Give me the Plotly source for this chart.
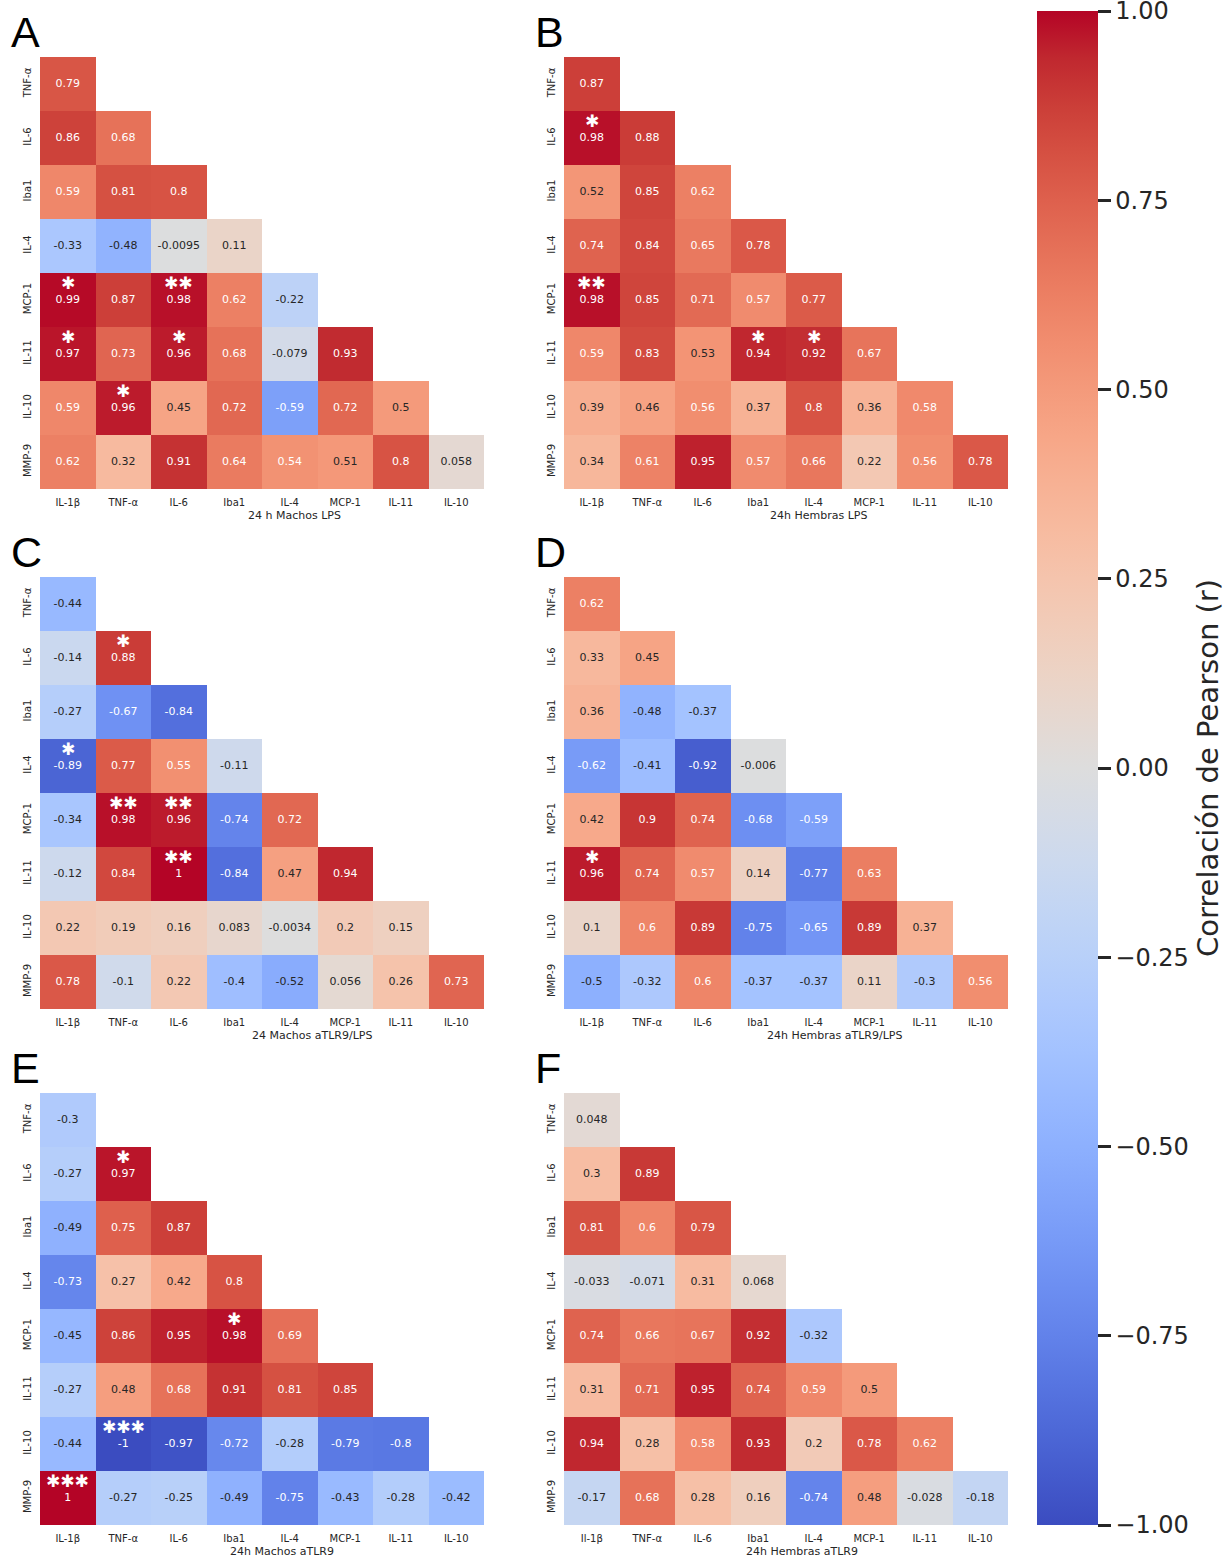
import plotly.graph_objects as go

# Row / column order of the lower-triangular correlation matrices
rows = ["TNF-α", "IL-6", "Iba1", "IL-4", "MCP-1", "IL-11", "IL-10", "MMP-9"]
cols = ["IL-1β", "TNF-α", "IL-6", "Iba1", "IL-4", "MCP-1", "IL-11", "IL-10"]
cols_f = ["Il-1β", "TNF-α", "IL-6", "Iba1", "IL-4", "MCP-1", "IL-11", "IL-10"]

# Pearson r per group (row i holds i+1 values)
r_machos_lps = [
    [0.79],
    [0.86, 0.68],
    [0.59, 0.81, 0.8],
    [-0.33, -0.48, -0.0095, 0.11],
    [0.99, 0.87, 0.98, 0.62, -0.22],
    [0.97, 0.73, 0.96, 0.68, -0.079, 0.93],
    [0.59, 0.96, 0.45, 0.72, -0.59, 0.72, 0.5],
    [0.62, 0.32, 0.91, 0.64, 0.54, 0.51, 0.8, 0.058],
]
r_hembras_lps = [
    [0.87],
    [0.98, 0.88],
    [0.52, 0.85, 0.62],
    [0.74, 0.84, 0.65, 0.78],
    [0.98, 0.85, 0.71, 0.57, 0.77],
    [0.59, 0.83, 0.53, 0.94, 0.92, 0.67],
    [0.39, 0.46, 0.56, 0.37, 0.8, 0.36, 0.58],
    [0.34, 0.61, 0.95, 0.57, 0.66, 0.22, 0.56, 0.78],
]
r_machos_tlr9_lps = [
    [-0.44],
    [-0.14, 0.88],
    [-0.27, -0.67, -0.84],
    [-0.89, 0.77, 0.55, -0.11],
    [-0.34, 0.98, 0.96, -0.74, 0.72],
    [-0.12, 0.84, 1, -0.84, 0.47, 0.94],
    [0.22, 0.19, 0.16, 0.083, -0.0034, 0.2, 0.15],
    [0.78, -0.1, 0.22, -0.4, -0.52, 0.056, 0.26, 0.73],
]
r_hembras_tlr9_lps = [
    [0.62],
    [0.33, 0.45],
    [0.36, -0.48, -0.37],
    [-0.62, -0.41, -0.92, -0.006],
    [0.42, 0.9, 0.74, -0.68, -0.59],
    [0.96, 0.74, 0.57, 0.14, -0.77, 0.63],
    [0.1, 0.6, 0.89, -0.75, -0.65, 0.89, 0.37],
    [-0.5, -0.32, 0.6, -0.37, -0.37, 0.11, -0.3, 0.56],
]
r_machos_tlr9 = [
    [-0.3],
    [-0.27, 0.97],
    [-0.49, 0.75, 0.87],
    [-0.73, 0.27, 0.42, 0.8],
    [-0.45, 0.86, 0.95, 0.98, 0.69],
    [-0.27, 0.48, 0.68, 0.91, 0.81, 0.85],
    [-0.44, -1, -0.97, -0.72, -0.28, -0.79, -0.8],
    [1, -0.27, -0.25, -0.49, -0.75, -0.43, -0.28, -0.42],
]
r_hembras_tlr9 = [
    [0.048],
    [0.3, 0.89],
    [0.81, 0.6, 0.79],
    [-0.033, -0.071, 0.31, 0.068],
    [0.74, 0.66, 0.67, 0.92, -0.32],
    [0.31, 0.71, 0.95, 0.74, 0.59, 0.5],
    [0.94, 0.28, 0.58, 0.93, 0.2, 0.78, 0.62],
    [-0.17, 0.68, 0.28, 0.16, -0.74, 0.48, -0.028, -0.18],
]

# Significance marks: (row, column index, number of stars)
sig_machos_lps = [("MCP-1", 0, 1), ("MCP-1", 2, 2), ("IL-11", 0, 1),
                  ("IL-11", 2, 1), ("IL-10", 1, 1)]
sig_hembras_lps = [("IL-6", 0, 1), ("MCP-1", 0, 2), ("IL-11", 3, 1),
                   ("IL-11", 4, 1)]
sig_machos_tlr9_lps = [("IL-6", 1, 1), ("IL-4", 0, 1), ("MCP-1", 1, 2),
                       ("MCP-1", 2, 2), ("IL-11", 2, 2)]
sig_hembras_tlr9_lps = [("IL-11", 0, 1)]
sig_machos_tlr9 = [("IL-6", 1, 1), ("MCP-1", 3, 1), ("IL-10", 1, 3),
                   ("MMP-9", 0, 3)]
sig_hembras_tlr9 = []

panels = [
    ("A", "24 h Machos LPS", r_machos_lps, sig_machos_lps, cols),
    ("B", "24h Hembras LPS", r_hembras_lps, sig_hembras_lps, cols),
    ("C", "24 Machos aTLR9/LPS", r_machos_tlr9_lps, sig_machos_tlr9_lps, cols),
    ("D", "24h Hembras aTLR9/LPS", r_hembras_tlr9_lps, sig_hembras_tlr9_lps, cols),
    ("E", "24h Machos aTLR9", r_machos_tlr9, sig_machos_tlr9, cols),
    ("F", "24h Hembras aTLR9", r_hembras_tlr9, sig_hembras_tlr9, cols_f),
]

# Diverging blue-white-red map (coolwarm)
coolwarm_rgb = [
    (59, 76, 192), (68, 90, 204), (77, 104, 215), (87, 117, 225), (98, 130, 234),
    (108, 142, 241), (119, 154, 247), (130, 165, 251), (141, 176, 254),
    (152, 185, 255), (163, 194, 255), (174, 201, 253), (184, 208, 249),
    (194, 213, 244), (204, 217, 238), (213, 219, 230), (221, 221, 221),
    (229, 216, 209), (236, 211, 197), (241, 204, 185), (245, 196, 173),
    (247, 187, 160), (247, 177, 148), (247, 166, 135), (244, 154, 123),
    (241, 141, 111), (236, 127, 99), (229, 112, 88), (222, 96, 77),
    (213, 80, 66), (203, 62, 56), (192, 40, 47), (180, 4, 38),
]
n_stops = len(coolwarm_rgb) - 1
colorscale = [[i / n_stops, "rgb(%d,%d,%d)" % c] for i, c in enumerate(coolwarm_rgb)]


def cell_rgb(v):
    t = (v + 1) / 2 * n_stops
    i = min(int(t), n_stops - 1)
    f = t - i
    a, b = coolwarm_rgb[i], coolwarm_rgb[i + 1]
    return [(a[k] + (b[k] - a[k]) * f) / 255 for k in range(3)]


def luminance(rgb):
    lin = [c / 12.92 if c <= 0.03928 else ((c + 0.055) / 1.055) ** 2.4 for c in rgb]
    return 0.2126 * lin[0] + 0.7152 * lin[1] + 0.0722 * lin[2]


W, H = 1231, 1558
FONT = "DejaVu Sans"
DARK = "#262626"

# Pixel boxes of the six heatmaps
col_x = [(40, 484), (564, 1008)]
row_y = [(57, 489), (577, 1009), (1093, 1525)]
title_x = [294, 818, 312, 834, 282, 802]

fig = go.Figure()
annotations = []

for p, (letter, xtitle, data, sig, xlabels) in enumerate(panels):
    gx, gy = p % 2, p // 2
    x0, x1 = col_x[gx]
    y0, y1 = row_y[gy]
    ax = "" if p == 0 else str(p + 1)

    z = [[row[j] if j < len(row) else None for j in range(len(xlabels))] for row in data]
    fig.add_trace(go.Heatmap(
        z=z, x=xlabels, y=rows, xaxis="x" + ax, yaxis="y" + ax,
        colorscale=colorscale, zmin=-1, zmax=1, showscale=(p == 0),
        hoverongaps=False,
        colorbar=dict(
            x=1037 / W, xanchor="left", xpad=0, y=1 - 768 / H, yanchor="middle",
            ypad=0, thickness=61, thicknessmode="pixels", len=1514, lenmode="pixels",
            outlinewidth=0, ticks="outside", ticklen=13, tickwidth=2.5,
            tickcolor=DARK, tickvals=[-1, -0.75, -0.5, -0.25, 0, 0.25, 0.5, 0.75, 1],
            tickformat=".2f", ticklabeloverflow="allow",
            tickfont=dict(family=FONT, size=24, color=DARK),
            title=dict(text="Correlación de Pearson (r)", side="right",
                       font=dict(family=FONT, size=29, color=DARK)),
        ),
    ))

    # cell values, written with two significant digits
    tx, ty, tt, tc = [], [], [], []
    for i, row in enumerate(data):
        for j, v in enumerate(row):
            tx.append(xlabels[j])
            ty.append(rows[i])
            tt.append(format(v, ".2g"))
            tc.append("white" if luminance(cell_rgb(v)) < 0.408 else DARK)
    fig.add_trace(go.Scatter(
        x=tx, y=ty, text=tt, mode="text", xaxis="x" + ax, yaxis="y" + ax,
        textfont=dict(family=FONT, size=11, color=tc), hoverinfo="skip",
        showlegend=False,
    ))

    for rname, j, n in sig:
        annotations.append(dict(
            x=xlabels[j], y=rname, xref="x" + ax, yref="y" + ax,
            text="✱" * n, showarrow=False, yshift=17,
            font=dict(family=FONT, size=17, color="white"),
        ))

    axis_common = dict(showgrid=False, zeroline=False, showline=False, ticks="",
                       tickfont=dict(family=FONT, size=10, color=DARK))
    fig.update_layout(**{
        "xaxis" + ax: dict(axis_common, domain=[x0 / W, x1 / W], anchor="y" + ax,
                           type="category", range=[-0.5, 7.5], ticklabelstandoff=6),
        "yaxis" + ax: dict(axis_common, domain=[1 - y1 / H, 1 - y0 / H], anchor="x" + ax,
                           type="category", range=[7.5, -0.5], tickangle=-90,
                           ticklabelstandoff=6),
    })

    annotations.append(dict(
        x=title_x[p] / W, y=1 - (y1 + 26) / H, xref="paper", yref="paper",
        text=xtitle, showarrow=False, xanchor="center", yanchor="middle",
        font=dict(family=FONT, size=11, color=DARK),
    ))
    annotations.append(dict(
        x=(x0 - 31) / W, y=1 - (y0 - 25) / H, xref="paper", yref="paper",
        text=letter, showarrow=False, xanchor="left", yanchor="middle",
        font=dict(family="Liberation Sans", size=43, color="black"),
    ))

fig.update_layout(
    width=W, height=H, margin=dict(l=0, r=0, t=0, b=0, autoexpand=False),
    paper_bgcolor="white", plot_bgcolor="white", showlegend=False,
    annotations=annotations,
)

fig.write_html("out.html")
